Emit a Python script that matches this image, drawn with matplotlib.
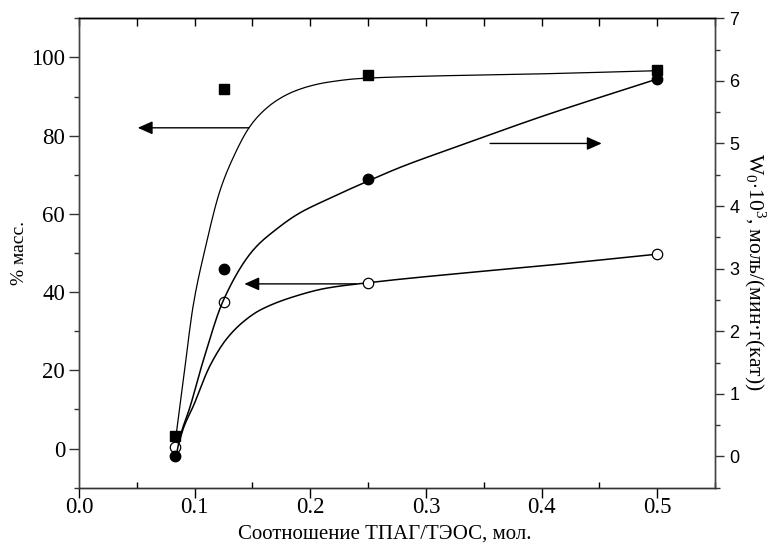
import numpy as np
import matplotlib
matplotlib.use('Agg')
import matplotlib.pyplot as plt
from matplotlib.ticker import FixedLocator, MultipleLocator

plt.rcParams['font.family'] = ['Liberation Serif', 'DejaVu Serif']
plt.rcParams['mathtext.fontset'] = 'custom'
plt.rcParams['mathtext.rm'] = 'Liberation Serif'
plt.rcParams['mathtext.it'] = 'Liberation Serif:italic'

# ---- data ----
ratio = [1/12, 0.125, 0.25, 0.5]
sq_mass = [3.3, 91.9, 95.4, 96.8]        # squares, left axis
open_mass = [0.3, 37.5, 42.4, 49.7]      # open circles, left axis
w0 = [0.0, 3.0, 4.44, 6.03]              # filled circles, right axis

# fitted curves as drawn
sq_curve_x = [0.084, 0.090, 0.099, 0.109, 0.122, 0.1335, 0.147, 0.157, 0.171,
              0.185, 0.200, 0.214, 0.243, 0.30, 0.40, 0.50]
sq_curve_y = [3.5, 17, 37, 51, 66, 74.5, 82, 85.6, 89, 91.2, 92.7, 93.6,
              94.6, 95.2, 95.8, 96.6]
w_curve_x = [0.085, 0.0874, 0.096, 0.1076, 0.125, 0.1508, 0.17, 0.19, 0.214,
             0.25, 0.278, 0.33, 0.40, 0.50]
w_curve_y = [0.1, 0.31, 0.79, 1.54, 2.50, 3.30, 3.62, 3.88, 4.10, 4.40, 4.62,
             4.97, 5.43, 6.03]
op_curve_x = [0.085, 0.0875, 0.090, 0.0989, 0.1133, 0.1278, 0.142, 0.1566,
              0.1854, 0.214, 0.25, 0.33, 0.40, 0.50]
op_curve_y = [0.3, 2.5, 5.0, 10.9, 21.2, 28.1, 32.4, 35.4, 38.8, 41.0, 42.4,
              44.8, 46.7, 49.7]


def pchip(x, y, n=400):
    x = np.asarray(x, float); y = np.asarray(y, float)
    h = np.diff(x); d = np.diff(y) / h
    m = np.zeros_like(y)
    m[0] = d[0]; m[-1] = d[-1]
    for k in range(1, len(x) - 1):
        if d[k - 1] * d[k] > 0:
            w1 = 2 * h[k] + h[k - 1]; w2 = h[k] + 2 * h[k - 1]
            m[k] = (w1 + w2) / (w1 / d[k - 1] + w2 / d[k])
    xn = np.linspace(x[0], x[-1], n)
    idx = np.clip(np.searchsorted(x, xn) - 1, 0, len(x) - 2)
    t = (xn - x[idx]) / h[idx]
    h00 = 2*t**3 - 3*t**2 + 1; h10 = t**3 - 2*t**2 + t
    h01 = -2*t**3 + 3*t**2; h11 = t**3 - t**2
    yn = h00*y[idx] + h10*h[idx]*m[idx] + h01*y[idx+1] + h11*h[idx]*m[idx+1]
    return xn, yn


fig = plt.figure(figsize=(7.73, 5.49), dpi=100)
ax = fig.add_axes([0.1022, 0.1117, 0.8228, 0.855])
ax2 = ax.twinx()

ax.set_xlim(0, 0.55)
ax.set_ylim(-10, 110)
ax2.set_ylim(-0.5, 7)

lw = 1.1
cx, cy = pchip(sq_curve_x, sq_curve_y)
ax.plot(cx, cy, color='k', lw=0.9, zorder=2)
cx, cy = pchip(op_curve_x, op_curve_y)
ax.plot(cx, cy, color='k', lw=lw, zorder=2)
cx, cy = pchip(w_curve_x, w_curve_y)
ax2.plot(cx, cy, color='k', lw=lw, zorder=2)

ax.plot(ratio, sq_mass, 's', color='k', ms=7, zorder=4, clip_on=False)
ax.plot(ratio, open_mass, 'o', mfc='white', mec='k', mew=0.9, ms=7.5, zorder=4)
ax2.plot(ratio, w0, 'o', color='k', ms=7.5, zorder=4)

ap = dict(arrowstyle='-|>,head_length=0.45,head_width=0.2', color='k',
          lw=1.0, shrinkA=0, shrinkB=0, mutation_scale=20)
ax.annotate('', xy=(0.0508, 82), xytext=(0.147, 82), arrowprops=ap)
ax.annotate('', xy=(0.143, 42.1), xytext=(0.2396, 42.1), arrowprops=ap)
ax2.annotate('', xy=(0.452, 5.0), xytext=(0.3555, 5.0), arrowprops=ap)

# x axis
ax.set_xticks(np.arange(0, 0.51, 0.1))
ax.set_xticklabels(['0.0', '0.1', '0.2', '0.3', '0.4', '0.5'])
ax.xaxis.set_minor_locator(FixedLocator([0.05, 0.15, 0.25, 0.35, 0.45, 0.55]))
ax.tick_params(axis='x', which='major', direction='out', length=7, width=1,
               labelsize=16.5, pad=0, top=False)
ax.tick_params(axis='x', which='minor', direction='in', length=4, width=1, top=False)
sec = ax.secondary_xaxis('top')
sec.set_xticks(np.arange(0, 0.551, 0.05))
sec.tick_params(direction='in', length=6, width=1, labeltop=False)
sec.spines['top'].set_color('k')

# left axis
ax.set_yticks(np.arange(0, 101, 20))
ax.yaxis.set_minor_locator(FixedLocator([-10, 10, 30, 50, 70, 90, 110]))
ax.tick_params(axis='y', which='major', direction='out', length=7, width=1,
               labelsize=16.5, pad=3, colors='#333333', labelcolor='k')
ax.tick_params(axis='y', which='minor', direction='out', length=3.6, width=1,
               colors='#333333')
ax.set_ylabel('% масс.', fontsize=14)
ax.yaxis.set_label_coords(-0.080, 0.5)
ax.set_xlabel('Соотношение ТПАГ/ТЭОС, мол.', fontsize=15)
ax.xaxis.set_label_coords(0.481, -0.078)

# right axis
ax2.set_yticks(np.arange(0, 8, 1))
ax2.yaxis.set_minor_locator(MultipleLocator(0.5))
ax2.tick_params(axis='y', which='major', direction='out', length=6.5, width=1,
               labelsize=13, pad=4, colors='#333333', labelcolor='k')
ax2.tick_params(axis='y', which='minor', direction='out', length=3.6, width=1,
               colors='#333333')
for lab in ax2.get_yticklabels():
    lab.set_family('Liberation Sans')
ax2.set_ylabel(r'W$_0$$\cdot$10$^3$, моль/(мин·г(кат))', fontsize=15.5,
               rotation=270)
ax2.yaxis.set_label_coords(1.082, 0.46)

for a in (ax, ax2):
    a.spines['left'].set_color('#444444')
    a.spines['right'].set_color('#444444')
    a.spines['top'].set_color('k')
    a.spines['bottom'].set_color('#333333')
    for s in a.spines.values():
        s.set_linewidth(1.0)

fig.savefig('out.png', dpi=100)
